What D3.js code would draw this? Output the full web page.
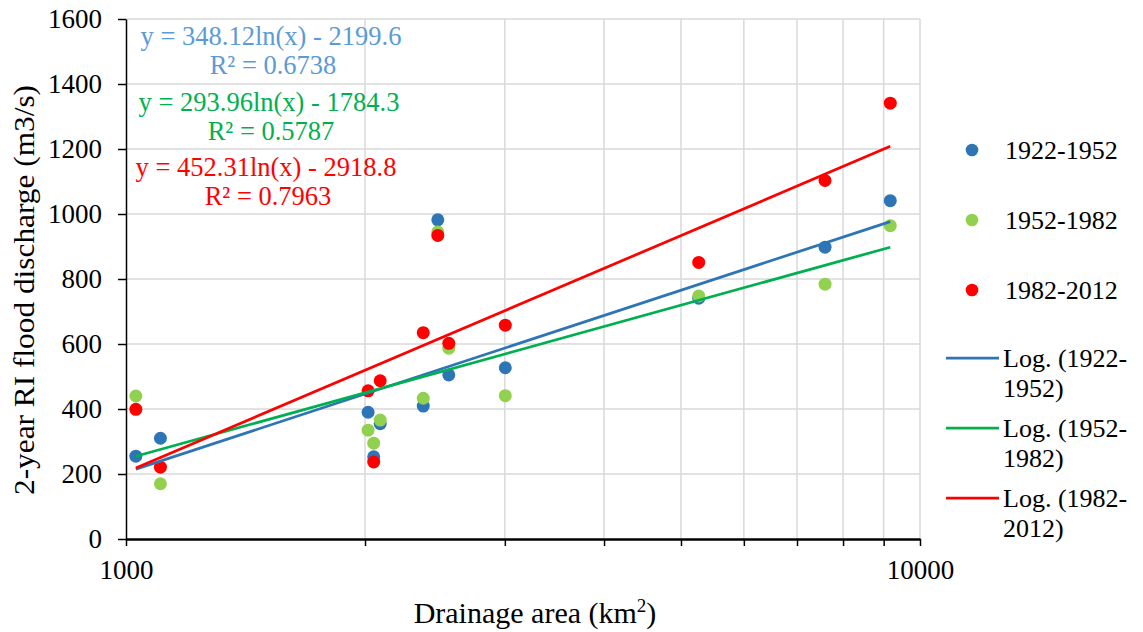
<!DOCTYPE html>
<html>
<head>
<meta charset="utf-8">
<script src="https://cdn.jsdelivr.net/npm/d3@7"></script>
<style>
  body { margin: 0; background: #fff; }
  svg, svg text { font-family: "Liberation Serif", "Times New Roman", serif; }
  .axis path, .axis line { stroke: #000; }
  .axis text { fill: #000; font-size: 27px; }
</style>
</head>
<body>
<svg width="1143" height="632"></svg>
<script>
// drainage area of each station (km2)
const areas = [1029, 1105, 2018, 2051, 2090, 2368, 2470, 2550, 3004, 5264, 7593, 9174];

// 2-year RI flood discharge (m3/s) per period
const q1922 = [255, 310, 390, 253, 355, 409, 982, 505, 527, 741, 898, 1041];
const q1952 = [440, 170, 335, 295, 366, 433, 945, 587, 441, 748, 784, 964];
const q1982 = [399, 221, 456, 237, 487, 635, 934, 602, 658, 851, 1103, 1341];

const seriesNames = ['1922-1952', '1952-1982', '1982-2012'];
const dotColors = ['#2E75B6', '#92D050', '#FF0000'];
const lineColors = ['#2E75B6', '#00B050', '#FF0000'];
const eqColors = ['#5B9BD5', '#00B050', '#FF0000'];

// log trendline coefficients y = a ln(x) + b
const trendA = [348.12, 293.96, 452.31];
const trendB = [-2199.6, -1784.3, -2918.8];
const trendR2 = ['0.6738', '0.5787', '0.7963'];

const yTicks = [0, 200, 400, 600, 800, 1000, 1200, 1400, 1600];
const xTicks = [1000, 2000, 3000, 4000, 5000, 6000, 7000, 8000, 9000, 10000];
const xLabels = [1000, 10000];

const allSeries = [q1922, q1952, q1982];

const svg = d3.select('svg');
const margin = { top: 19, right: 223, bottom: 93, left: 126 },
    width = +svg.attr('width') - margin.left - margin.right,
    height = +svg.attr('height') - margin.top - margin.bottom;

const x = d3.scaleLog().domain([1000, 10000]).range([margin.left, margin.left + width]);
const y = d3.scaleLinear().domain([0, 1600]).range([margin.top + height, margin.top]);

// gridlines
svg.append('g').selectAll('line')
    .data(yTicks.slice(1))
    .enter().append('line')
    .attr('x1', x(1000)).attr('x2', x(10000))
    .attr('y1', d => y(d)).attr('y2', d => y(d))
    .attr('stroke', '#D9D9D9').attr('stroke-width', 1.5);

svg.append('g').selectAll('line')
    .data(xTicks.slice(1))
    .enter().append('line')
    .attr('x1', d => x(d)).attr('x2', d => x(d))
    .attr('y1', y(0)).attr('y2', y(1600))
    .attr('stroke', '#D9D9D9').attr('stroke-width', 1.5);

// y axis
svg.append('g')
    .attr('class', 'axis')
    .attr('transform', 'translate(' + x(1000) + ',0)')
    .call(d3.axisLeft(y).tickValues(yTicks).tickFormat(d => String(d))
        .tickSize(8).tickSizeOuter(0).tickPadding(16))
    .attr('font-family', null).attr('font-size', null)
    .call(g => g.selectAll('path, line').attr('stroke-width', 1.5));

// x axis
svg.append('g')
    .attr('class', 'axis')
    .attr('transform', 'translate(0,' + y(0) + ')')
    .call(d3.axisBottom(x).tickValues(xTicks).tickSize(7).tickSizeOuter(0).tickPadding(14)
        .tickFormat(d => xLabels.includes(d) ? String(d) : ''))
    .attr('font-family', null).attr('font-size', null)
    .call(g => g.select('path').attr('stroke-width', 2.5))
    .call(g => g.selectAll('line').attr('stroke-width', 1.5));

// points
allSeries.forEach((s, i) => {
    svg.append('g').selectAll('circle')
        .data(s)
        .enter().append('circle')
        .attr('cx', (d, j) => x(areas[j]))
        .attr('cy', d => y(d))
        .attr('r', 6.5)
        .attr('fill', dotColors[i]);
});

// log trendlines over min..max area
const xMin = d3.min(areas), xMax = d3.max(areas);
const trendLine = d3.line().x(d => x(d[0])).y(d => y(d[1]));
trendA.forEach((a, i) => {
    const pts = [xMin, xMax].map(v => [v, a * Math.log(v) + trendB[i]]);
    svg.append('path')
        .attr('d', trendLine(pts))
        .attr('fill', 'none')
        .attr('stroke', lineColors[i])
        .attr('stroke-width', 2.75);
});

// trendline equations
const eqX = [271, 269, 266];
const eqY = [45, 111, 176];
trendA.forEach((a, i) => {
    const g = svg.append('g')
        .attr('fill', eqColors[i])
        .attr('font-size', 26.5)
        .attr('text-anchor', 'middle');
    g.append('text')
        .attr('x', eqX[i]).attr('y', eqY[i])
        .text('y = ' + a.toFixed(2) + 'ln(x) - ' + Math.abs(trendB[i]).toFixed(1));
    g.append('text')
        .attr('x', eqX[i] + 2).attr('y', eqY[i] + 29)
        .text('R² = ' + trendR2[i]);
});

// axis titles
svg.append('text')
    .attr('transform', 'translate(34,290) rotate(-90)')
    .attr('text-anchor', 'middle')
    .attr('font-size', 29)
    .attr('textLength', 410)
    .attr('lengthAdjust', 'spacingAndGlyphs')
    .text('2-year RI flood discharge (m3/s)');

const xt = svg.append('text')
    .attr('x', 535).attr('y', 623)
    .attr('text-anchor', 'middle')
    .attr('font-size', 30);
xt.append('tspan').text('Drainage area (km');
xt.append('tspan').attr('font-size', 19).attr('dy', -11).text('2');
xt.append('tspan').attr('dy', 11).text(')');

// legend
const legend = svg.append('g').attr('font-size', 26);
seriesNames.forEach((name, i) => {
    const ly = 150 + i * 70;
    legend.append('circle')
        .attr('cx', 972).attr('cy', ly).attr('r', 6.3)
        .attr('fill', dotColors[i]);
    legend.append('text')
        .attr('x', 1005).attr('y', ly).attr('dy', '0.33em')
        .text(name);
});
seriesNames.forEach((name, i) => {
    const ly = 358 + i * 70;
    const parts = name.split('-');
    legend.append('line')
        .attr('x1', 946).attr('x2', 999)
        .attr('y1', ly).attr('y2', ly)
        .attr('stroke', lineColors[i]).attr('stroke-width', 2.75);
    legend.append('text')
        .attr('x', 1003).attr('y', ly).attr('dy', '0.33em')
        .text('Log. (' + parts[0] + '-');
    legend.append('text')
        .attr('x', 1003).attr('y', ly + 30).attr('dy', '0.33em')
        .text(parts[1] + ')');
});
</script>
</body>
</html>
